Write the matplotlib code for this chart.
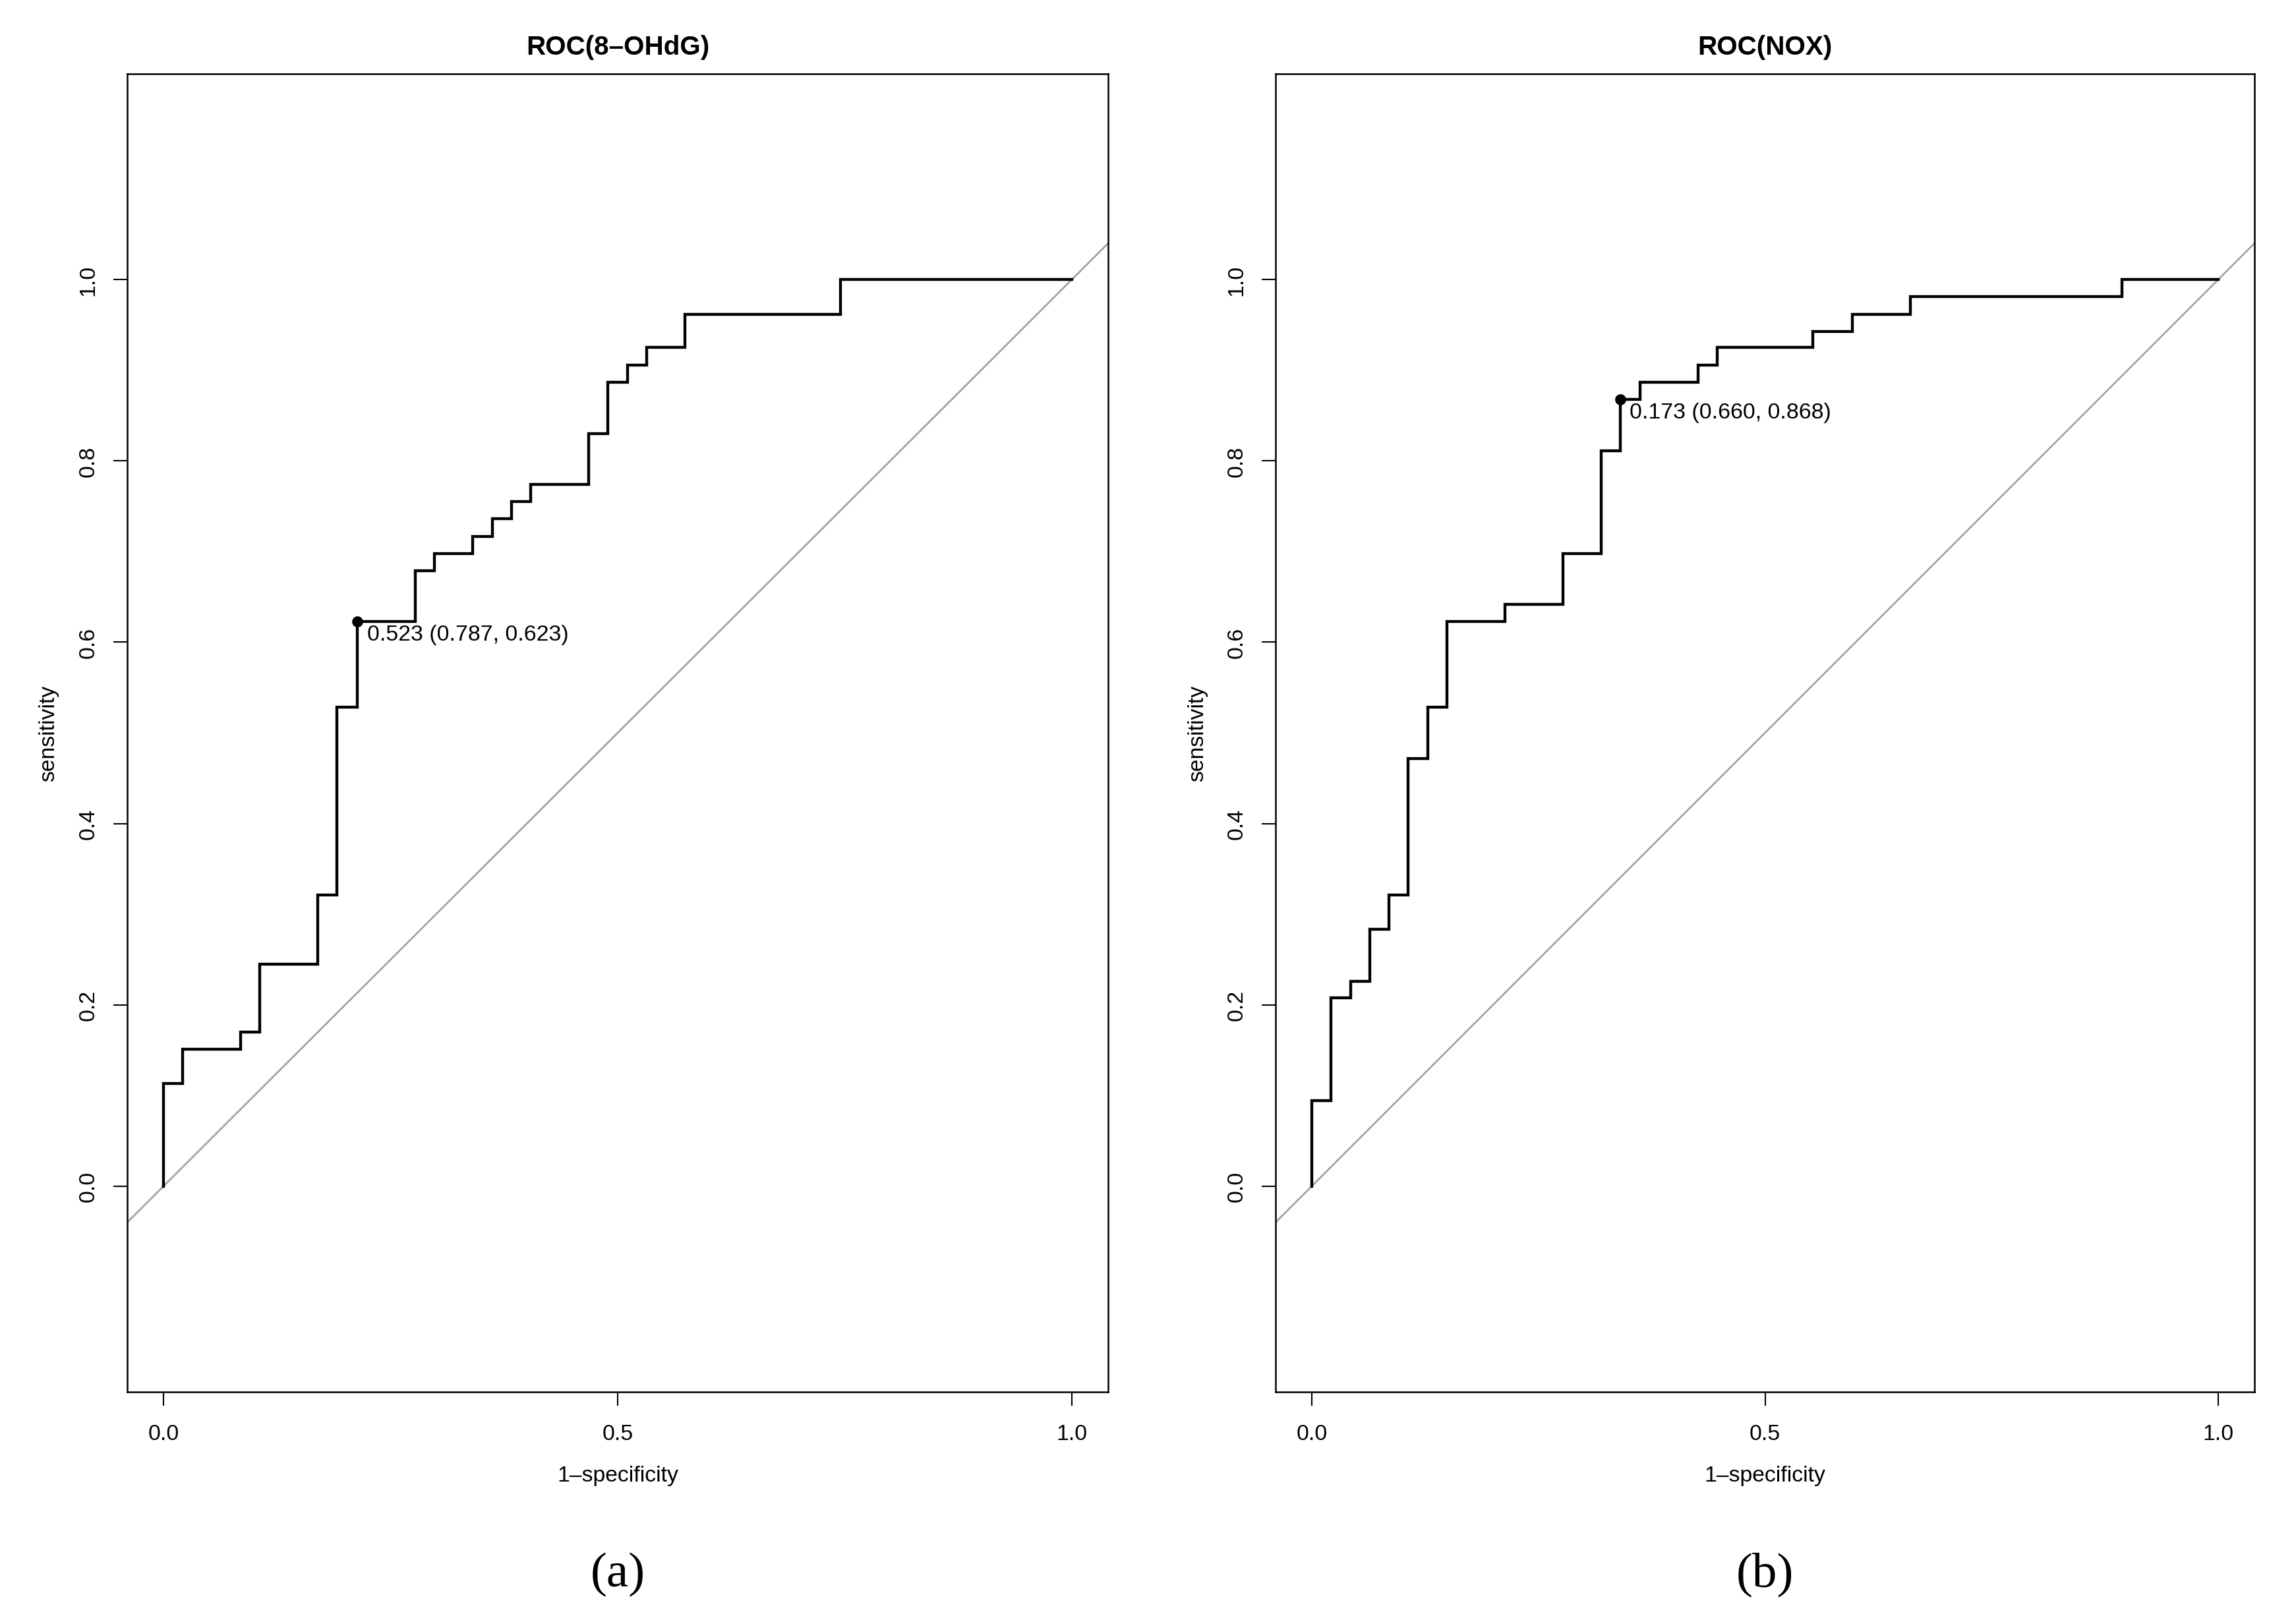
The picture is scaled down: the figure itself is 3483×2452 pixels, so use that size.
import matplotlib
matplotlib.use("Agg")
import matplotlib.pyplot as plt

# ---- data ----
titles = ["ROC(8\u2013OHdG)", "ROC(NOX)"]
panel_tags = ["(a)", "(b)"]

# (a) 8-OHdG : step corners, 1-specificity and sensitivity
a_fpr = [0.000, 0.000, 0.021, 0.085, 0.106, 0.170, 0.191, 0.213, 0.277, 0.298, 0.340,
         0.362, 0.383, 0.404, 0.468, 0.489, 0.511, 0.532, 0.574, 0.745, 1.000]
a_tpr = [0.000, 0.113, 0.151, 0.170, 0.245, 0.321, 0.528, 0.623, 0.679, 0.698, 0.717,
         0.736, 0.755, 0.774, 0.830, 0.887, 0.906, 0.925, 0.962, 1.000, 1.000]

# (b) NOX
b_fpr = [0.000, 0.000, 0.021, 0.043, 0.064, 0.085, 0.106, 0.128, 0.149, 0.213, 0.277,
         0.319, 0.340, 0.362, 0.426, 0.447, 0.553, 0.596, 0.660, 0.894, 1.000]
b_tpr = [0.000, 0.094, 0.208, 0.226, 0.283, 0.321, 0.472, 0.528, 0.623, 0.642, 0.698,
         0.811, 0.868, 0.887, 0.906, 0.925, 0.943, 0.962, 0.981, 1.000, 1.000]

# best thresholds: (threshold, specificity, sensitivity)
best_a = (0.523, 0.787, 0.623)
best_b = (0.173, 0.660, 0.868)

x_ticks = [0.0, 0.5, 1.0]
x_ticklabels = ["0.0", "0.5", "1.0"]
y_ticks = [0.0, 0.2, 0.4, 0.6, 0.8, 1.0]
y_ticklabels = ["0.0", "0.2", "0.4", "0.6", "0.8", "1.0"]
x_label = "1\u2013specificity"
y_label = "sensitivity"

# ---- figure ----
plt.rcParams["font.family"] = ["Liberation Sans", "DejaVu Sans"]
W, H = 3483, 2453
dpi = 300
fig = plt.figure(figsize=(W / dpi, H / dpi), dpi=dpi)

ax_bottom = 1 - 2113 / H
ax_height = (2113 - 113) / H
axes_rects = [
    [193 / W, ax_bottom, 1488 / W, ax_height],
    [1935 / W, ax_bottom, 1485 / W, ax_height],
]

curves = [(a_fpr, a_tpr, best_a), (b_fpr, b_tpr, best_b)]

for i, (rect, (fx, ty, best)) in enumerate(zip(axes_rects, curves)):
    ax = fig.add_axes(rect)
    ax.set_xlim(-0.04, 1.04)
    ax.set_ylim(-0.227, 1.227)

    # chance diagonal
    ax.axline((0, 0), (1, 1), color="#a6a6a6", lw=0.7, zorder=1)
    # ROC curve
    ax.step(fx, ty, where="post", color="black", lw=1.05, zorder=2,
            solid_joinstyle="miter")
    # best threshold point
    thr, spec, sens = best
    ax.plot([1 - spec], [sens], "o", color="black", ms=3.0, zorder=3)
    ax.annotate(f"{thr:.3f} ({spec:.3f}, {sens:.3f})", xy=(1 - spec, sens),
                xytext=(3.6, -4.8), textcoords="offset points",
                ha="left", va="center", fontsize=8.15)

    # ticks
    ax.set_xticks(x_ticks)
    ax.set_xticklabels(x_ticklabels)
    ax.set_yticks(y_ticks)
    ax.set_yticklabels(y_ticklabels, rotation=90, va="center")
    ax.tick_params(axis="both", direction="out", length=5.0, width=0.5,
                   labelsize=8.1)
    ax.tick_params(axis="x", pad=6.5)
    ax.tick_params(axis="y", pad=5.5)
    for sp in ax.spines.values():
        sp.set_linewidth(0.6)

    # labels
    ax.set_xlabel(x_label, fontsize=8.1)
    ax.xaxis.set_label_coords(0.5, -127 / 2000)
    ax.xaxis.label.set_va("center")
    ax.set_ylabel(y_label, fontsize=8.1)
    ax.yaxis.set_label_coords(-119 / 1488, 0.5)
    ax.yaxis.label.set_va("center")

    # title
    ax.annotate(titles[i], xy=(0.5, 1.0), xycoords="axes fraction",
                xytext=(0, 9.8), textcoords="offset points",
                ha="center", va="center", fontsize=9.7, fontweight="bold")

    # panel tag
    ax.annotate(panel_tags[i], xy=(0.5, 0.0), xycoords="axes fraction",
                xytext=(0, -(2389 - 2113) * 72 / dpi), textcoords="offset points",
                ha="center", va="center", fontsize=18,
                family=["Liberation Serif", "DejaVu Serif"])

fig.savefig("out.png", dpi=dpi)
